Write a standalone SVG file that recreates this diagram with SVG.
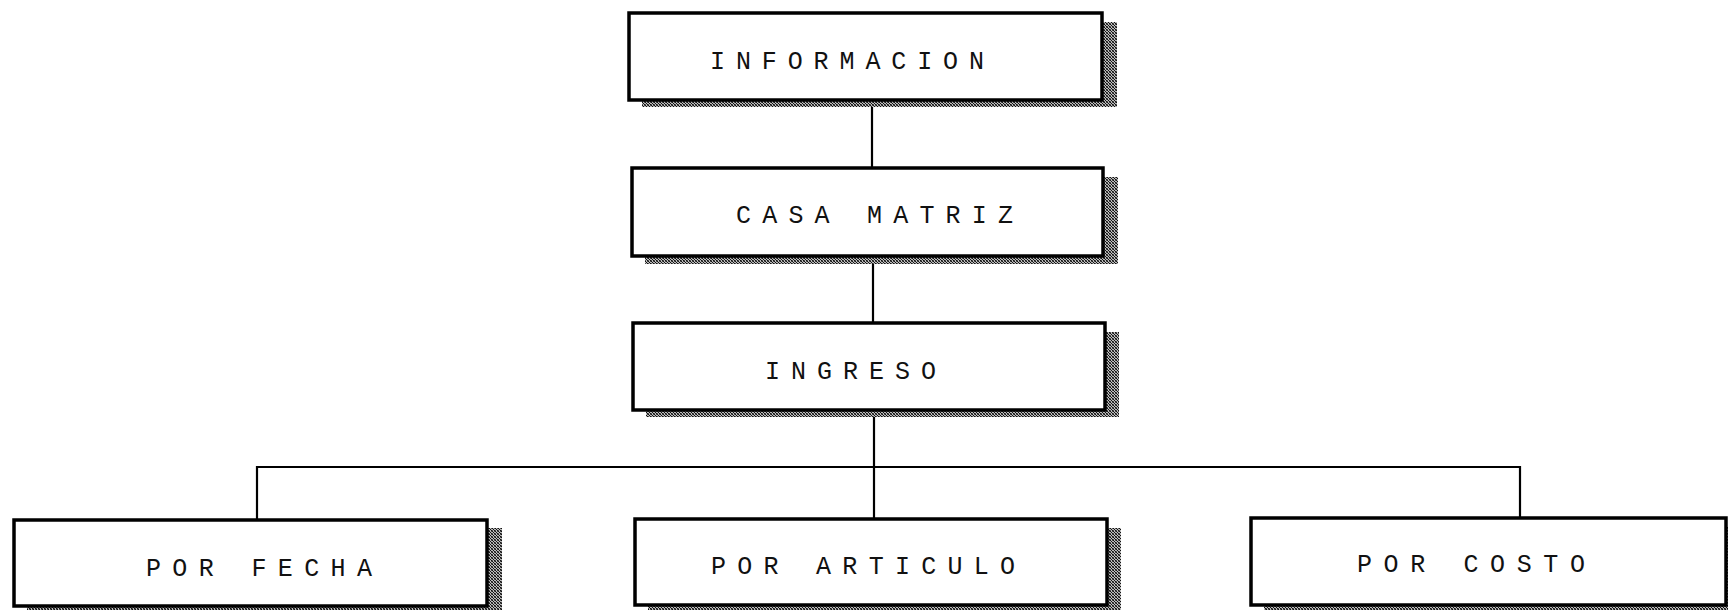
<svg xmlns="http://www.w3.org/2000/svg" width="1728" height="610" viewBox="0 0 1728 610">
<defs>
<pattern id="dith" width="3" height="3" patternUnits="userSpaceOnUse">
<rect width="3" height="3" fill="#bbbbbb"/>
<rect x="0" y="0" width="1" height="1" fill="#111"/>
<rect x="1" y="1" width="1" height="1" fill="#111"/>
<rect x="2" y="2" width="1" height="1" fill="#111"/>
<rect x="2" y="0" width="1" height="1" fill="#555"/>
<rect x="0" y="2" width="1" height="1" fill="#555"/>
</pattern>
</defs>
<style>
.box{fill:#fff;stroke:#000;stroke-width:3.5}
.sh{fill:url(#dith)}
.lbl{font-family:"Liberation Mono","DejaVu Sans Mono",monospace;font-size:25px;fill:#111}
.con{stroke:#000;stroke-width:2.2;fill:none}
</style>
<rect width="1728" height="610" fill="#fff"/>
<g id="connectors">
<line class="con" x1="872" y1="100" x2="872" y2="168"/>
<line class="con" x1="873" y1="256" x2="873" y2="323"/>
<line class="con" x1="874" y1="410" x2="874" y2="519"/>
<line class="con" x1="257" y1="467" x2="1520" y2="467"/>
<line class="con" x1="257" y1="466" x2="257" y2="520"/>
<line class="con" x1="1520" y1="466" x2="1520" y2="518"/>
</g>
<g id="n-informacion">
<rect class="sh" x="642" y="22" width="475" height="85"/>
<rect class="box" x="629" y="13" width="473" height="87"/>
<text class="lbl" x="710" y="69" textLength="274" lengthAdjust="spacing">INFORMACION</text>
</g>
<g id="n-casa-matriz">
<rect class="sh" x="645" y="177" width="473" height="87"/>
<rect class="box" x="632" y="168" width="471" height="88"/>
<text class="lbl" x="736" y="223" textLength="277" lengthAdjust="spacing">CASA MATRIZ</text>
</g>
<g id="n-ingreso">
<rect class="sh" x="646" y="332" width="473" height="85"/>
<rect class="box" x="633" y="323" width="472" height="87"/>
<text class="lbl" x="765" y="379" textLength="171" lengthAdjust="spacing">INGRESO</text>
</g>
<g id="n-por-fecha">
<rect class="sh" x="27" y="528" width="475" height="85"/>
<rect class="box" x="14" y="520" width="473" height="86"/>
<text class="lbl" x="146" y="576" textLength="226" lengthAdjust="spacing">POR FECHA</text>
</g>
<g id="n-por-articulo">
<rect class="sh" x="648" y="528" width="473" height="85"/>
<rect class="box" x="635" y="519" width="472" height="86"/>
<text class="lbl" x="711" y="574" textLength="304" lengthAdjust="spacing">POR ARTICULO</text>
</g>
<g id="n-por-costo">
<rect class="sh" x="1264" y="527" width="478" height="85"/>
<rect class="box" x="1251" y="518" width="475" height="87"/>
<text class="lbl" x="1357" y="572" textLength="228" lengthAdjust="spacing">POR COSTO</text>
</g>
</svg>
